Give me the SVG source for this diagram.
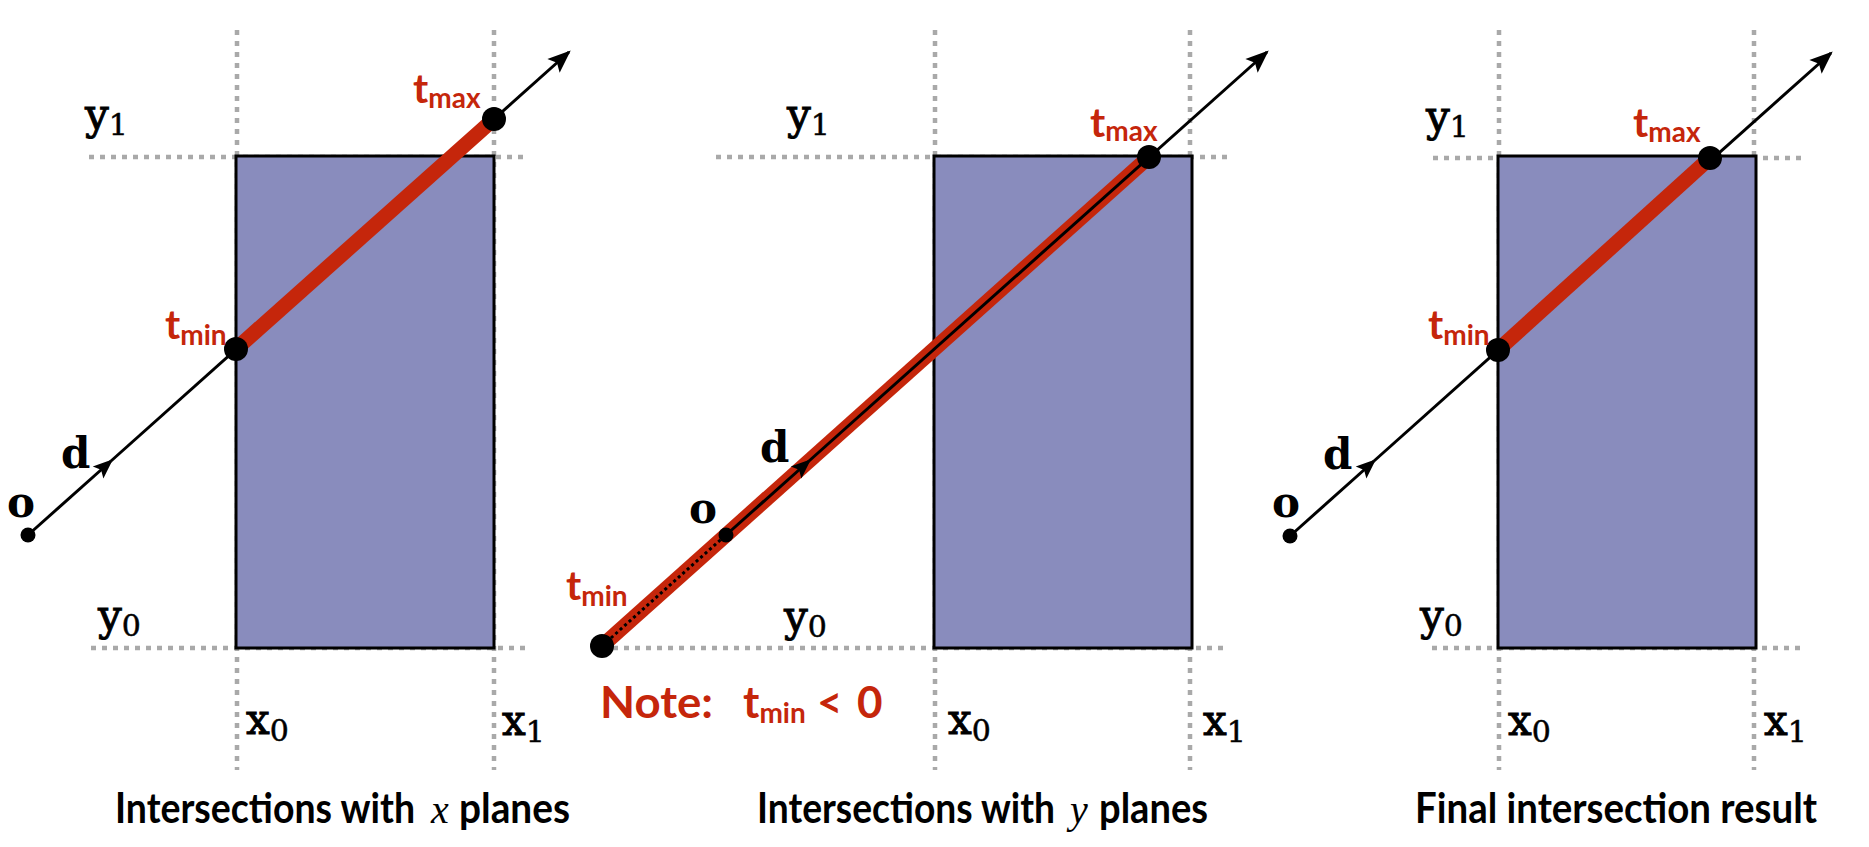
<svg xmlns="http://www.w3.org/2000/svg" width="1869" height="847" viewBox="0 0 1869 847">
<style>
.grid{stroke:#a9a9a9;stroke-width:4.5;stroke-dasharray:5 6;fill:none}
.box{fill:#898cbd;stroke:#000;stroke-width:3}
.ray{stroke:#000;stroke-width:3;fill:none}
.seg{stroke:#c5260b;stroke-width:15;stroke-linecap:butt;fill:none}
.dotted{stroke:#000;stroke-width:3;stroke-dasharray:3 3;fill:none}
.lbl{font-family:"DejaVu Serif","Liberation Serif",serif;font-weight:normal;font-size:42px;fill:#000;stroke:#000;stroke-width:1}
.bold{font-weight:bold;stroke:none}
.sub{font-size:30px;font-weight:normal;stroke-width:0.5}
.red{font-family:Lato,"Open Sans",sans-serif;font-weight:bold;font-size:41px;fill:#c5260b}
.rsub{font-size:28px}
.note{font-size:44px}
.title{font-family:Lato,"Open Sans",sans-serif;font-weight:bold;font-size:42px;fill:#000}
.it{font-family:"Liberation Serif",serif;font-style:italic;font-weight:normal;font-size:40px;fill:#000}
</style>
<defs>
<marker id="arrEnd" markerUnits="userSpaceOnUse" markerWidth="30" markerHeight="30" viewBox="-22 -11 26 22" refX="0" refY="0" orient="auto">
<path d="M2,0 L-18,-8 L-14,0 L-18,8 Z" fill="#000"/>
</marker>
<marker id="arrMid" markerUnits="userSpaceOnUse" markerWidth="24" markerHeight="24" viewBox="-16 -8 18 16" refX="0" refY="0" orient="auto">
<path d="M2,0 L-13,-6 L-10,0 L-13,6 Z" fill="#000"/>
</marker>
</defs>

<g id="panel1">
<g id="grid1">
<line class="grid" x1="237" y1="30" x2="237" y2="770"/>
<line class="grid" x1="494" y1="30" x2="494" y2="770"/>
<line class="grid" x1="89" y1="157" x2="527" y2="157"/>
<line class="grid" x1="91" y1="648" x2="527" y2="648"/>
</g>
<rect id="box1" class="box" x="236" y="156" width="258" height="492"/>
<g id="ray1">
<path class="ray" d="M28,535 L111,461" marker-end="url(#arrMid)"/>
<path class="ray" d="M111,461 L569,52" marker-end="url(#arrEnd)"/>
<line class="seg" x1="236" y1="349" x2="494" y2="119"/>
<circle cx="236" cy="349" r="12" fill="#000"/>
<circle cx="494" cy="119" r="12" fill="#000"/>
<circle cx="28" cy="535" r="7.5" fill="#000"/>
</g>
<g id="labels1">
<text class="lbl" x="85" y="129">y<tspan class="sub" dy="6">1</tspan></text>
<text class="lbl" x="98" y="630">y<tspan class="sub" dy="6">0</tspan></text>
<text class="lbl" x="246" y="734">x<tspan class="sub" dy="7">0</tspan></text>
<text class="lbl" x="502" y="735">x<tspan class="sub" dy="7">1</tspan></text>
<text class="lbl bold" x="61" y="468">d</text>
<text class="lbl bold" x="7" y="517">o</text>
<text class="red" x="413" y="103">t<tspan class="rsub" dy="5">max</tspan></text>
<text class="red" x="165" y="339">t<tspan class="rsub" dy="6">min</tspan></text>
</g>
<g id="title1">
<text class="title" x="115" y="823" textLength="300" lengthAdjust="spacingAndGlyphs">Intersections with</text>
<text class="it" x="431" y="823">x</text>
<text class="title" x="459" y="823" textLength="111" lengthAdjust="spacingAndGlyphs">planes</text>
</g>
</g>

<g id="panel2">
<g id="grid2">
<line class="grid" x1="935" y1="30" x2="935" y2="770"/>
<line class="grid" x1="1190" y1="30" x2="1190" y2="770"/>
<line class="grid" x1="716" y1="157" x2="1228" y2="157"/>
<line class="grid" x1="613" y1="648" x2="1228" y2="648"/>
</g>
<rect id="box2" class="box" x="934" y="156" width="258" height="492"/>
<g id="ray2">
<line class="seg" x1="602" y1="646" x2="1149" y2="157"/>
<line class="dotted" x1="602" y1="646" x2="726" y2="535"/>
<path class="ray" d="M726,535 L809,461" marker-end="url(#arrMid)"/>
<path class="ray" d="M809,461 L1267,52" marker-end="url(#arrEnd)"/>
<circle cx="602" cy="646" r="12" fill="#000"/>
<circle cx="1149" cy="157" r="12" fill="#000"/>
<circle cx="726" cy="535" r="7.5" fill="#000"/>
</g>
<g id="labels2">
<text class="lbl" x="787" y="129">y<tspan class="sub" dy="6">1</tspan></text>
<text class="lbl" x="784" y="631">y<tspan class="sub" dy="6">0</tspan></text>
<text class="lbl" x="948" y="734">x<tspan class="sub" dy="7">0</tspan></text>
<text class="lbl" x="1203" y="735">x<tspan class="sub" dy="7">1</tspan></text>
<text class="lbl bold" x="760" y="462">d</text>
<text class="lbl bold" x="689" y="523">o</text>
<text class="red" x="1090" y="137">t<tspan class="rsub" dy="4">max</tspan></text>
<text class="red" x="566" y="600">t<tspan class="rsub" dy="6">min</tspan></text>
</g>
<g id="note">
<text class="red note" x="600" y="718" textLength="113" lengthAdjust="spacingAndGlyphs">Note:</text>
<text class="red note" x="743" y="718">t<tspan class="rsub" dy="5">min</tspan></text>
<text class="red note" x="817" y="718">&lt;</text>
<text class="red note" x="857" y="718">0</text>
</g>
<g id="title2">
<text class="title" x="757" y="823" textLength="298" lengthAdjust="spacingAndGlyphs">Intersections with</text>
<text class="it" x="1070" y="823">y</text>
<text class="title" x="1099" y="823" textLength="109" lengthAdjust="spacingAndGlyphs">planes</text>
</g>
</g>

<g id="panel3">
<g id="grid3">
<line class="grid" x1="1499" y1="30" x2="1499" y2="770"/>
<line class="grid" x1="1754" y1="30" x2="1754" y2="770"/>
<line class="grid" x1="1433" y1="158" x2="1802" y2="158"/>
<line class="grid" x1="1432" y1="648" x2="1802" y2="648"/>
</g>
<rect id="box3" class="box" x="1498" y="156" width="258" height="492"/>
<g id="ray3">
<path class="ray" d="M1290,536 L1374,461" marker-end="url(#arrMid)"/>
<path class="ray" d="M1374,461 L1831,53" marker-end="url(#arrEnd)"/>
<line class="seg" x1="1498" y1="350" x2="1710" y2="158"/>
<circle cx="1498" cy="350" r="12" fill="#000"/>
<circle cx="1710" cy="158" r="12" fill="#000"/>
<circle cx="1290" cy="536" r="7.5" fill="#000"/>
</g>
<g id="labels3">
<text class="lbl" x="1426" y="131">y<tspan class="sub" dy="6">1</tspan></text>
<text class="lbl" x="1420" y="630">y<tspan class="sub" dy="6">0</tspan></text>
<text class="lbl" x="1508" y="735">x<tspan class="sub" dy="7">0</tspan></text>
<text class="lbl" x="1764" y="735">x<tspan class="sub" dy="7">1</tspan></text>
<text class="lbl bold" x="1323" y="469">d</text>
<text class="lbl bold" x="1272" y="517">o</text>
<text class="red" x="1633" y="137">t<tspan class="rsub" dy="5">max</tspan></text>
<text class="red" x="1428" y="339">t<tspan class="rsub" dy="6">min</tspan></text>
</g>
<g id="title3">
<text class="title" x="1415" y="823" textLength="402" lengthAdjust="spacingAndGlyphs">Final intersection result</text>
</g>
</g>
</svg>
